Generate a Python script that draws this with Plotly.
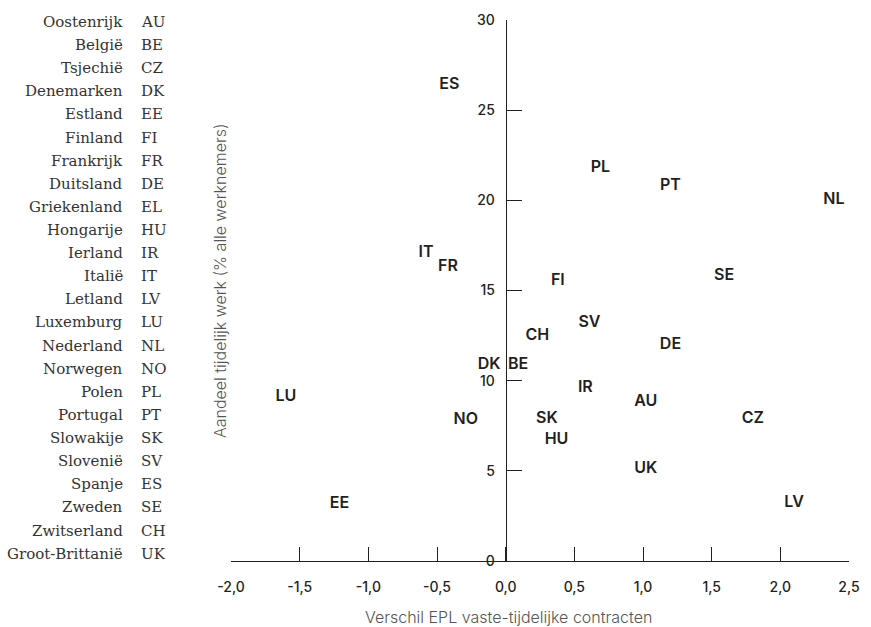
import plotly.graph_objects as go

# ---- data ----
codes = ["ES", "IT", "FR", "PL", "PT", "NL", "SE", "FI", "SV", "CH", "DE", "DK",
         "BE", "IR", "AU", "LU", "NO", "SK", "CZ", "HU", "UK", "EE", "LV"]
epl_diff = [-0.41, -0.58, -0.42, 0.69, 1.20, 2.39, 1.59, 0.38, 0.61, 0.23, 1.20, -0.12,
            0.09, 0.58, 1.02, -1.60, -0.29, 0.30, 1.80, 0.37, 1.02, -1.21, 2.10]
temp_share = [26.4, 17.1, 16.3, 21.8, 20.8, 20.0, 15.8, 15.5, 13.2, 12.5, 12.0, 10.85,
              10.85, 9.6, 8.8, 9.1, 7.8, 7.9, 7.9, 6.7, 5.1, 3.15, 3.2]

legend_names = ["Oostenrijk", "België", "Tsjechië", "Denemarken", "Estland", "Finland",
                "Frankrijk", "Duitsland", "Griekenland", "Hongarije", "Ierland", "Italië",
                "Letland", "Luxemburg", "Nederland", "Norwegen", "Polen", "Portugal",
                "Slowakije", "Slovenië", "Spanje", "Zweden", "Zwitserland", "Groot-Brittanië"]
legend_codes = ["AU", "BE", "CZ", "DK", "EE", "FI", "FR", "DE", "EL", "HU", "IR", "IT",
                "LV", "LU", "NL", "NO", "PL", "PT", "SK", "SV", "ES", "SE", "CH", "UK"]

x_ticks = [-2.0, -1.5, -1.0, -0.5, 0.0, 0.5, 1.0, 1.5, 2.0, 2.5]
x_tick_labels = ["-2,0", "-1,5", "-1,0", "-0,5", "0,0", "0,5", "1,0", "1,5", "2,0", "2,5"]
y_ticks = [0, 5, 10, 15, 20, 25, 30]
y_tick_labels = ["0", "5", "10", "15", "20", "25", "30"]

x_title = "Verschil EPL vaste-tijdelijke contracten"
y_title = "Aandeel tijdelijk werk (% alle werknemers)"

# ---- layout constants ----
W, H = 871, 627
ML, MR, MT, MB = 231, 11, 15, 66
PW, PH = W - ML - MR, H - MT - MB
xr = [-2.0, 2.5]
yr = [0, 30]
SANS = "Inter"
SERIF = "DejaVu Serif"
DARK = "#231f20"

fig = go.Figure()
fig.add_trace(go.Scatter(
    x=epl_diff, y=temp_share, text=codes, mode="text",
    textposition="middle center",
    textfont=dict(family=SANS, size=16, color=DARK, weight=600),
    cliponaxis=False, hoverinfo="skip", showlegend=False,
))

annotations = []
row_h = 23.33
y0_px = 17
for i, (name, code) in enumerate(zip(legend_names, legend_codes)):
    ypx = y0_px + row_h * i
    yp = (MT + PH - ypx) / PH
    annotations.append(dict(xref="paper", yref="paper", x=0, y=yp, xshift=125 - ML,
                            xanchor="right", yanchor="middle", showarrow=False, text=name,
                            font=dict(family=SERIF, size=15, color="#333333")))
    annotations.append(dict(xref="paper", yref="paper", x=0, y=yp, xshift=139 - ML,
                            xanchor="left", yanchor="middle", showarrow=False, text=code,
                            font=dict(family=SERIF, size=15, color="#333333")))

annotations.append(dict(xref="paper", yref="paper", x=0, xshift=220 - ML,
                        y=(MT + PH - 278.5) / PH, textangle=-90, showarrow=False,
                        xanchor="center", yanchor="middle", text=y_title,
                        font=dict(family=SANS, size=16, color="#555555", weight=300)))
annotations.append(dict(xref="paper", yref="paper", x=(513 - ML) / PW,
                        y=(MT + PH - 618) / PH, showarrow=False,
                        xanchor="center", yanchor="middle", text=x_title,
                        font=dict(family=SANS, size=16, color="#555555", weight=300)))

fig.update_layout(
    width=W, height=H,
    margin=dict(l=ML, r=MR, t=MT, b=MB, pad=0),
    paper_bgcolor="white", plot_bgcolor="white",
    showlegend=False,
    annotations=annotations,
    xaxis=dict(range=xr, showgrid=False, zeroline=False, showline=True,
               linecolor=DARK, linewidth=1, ticks="inside", ticklen=14,
               tickcolor=DARK, tickwidth=1, tickvals=x_ticks, ticktext=x_tick_labels,
               tickfont=dict(family=SANS, size=14, color=DARK, weight=500),
               ticklabelstandoff=13, fixedrange=True),
    yaxis=dict(range=yr, showgrid=False, zeroline=False, showline=True,
               anchor="free", position=(0 - xr[0]) / (xr[1] - xr[0]),
               linecolor=DARK, linewidth=1, ticks="inside", ticklen=15,
               tickcolor=DARK, tickwidth=1, tickvals=y_ticks, ticktext=y_tick_labels,
               tickfont=dict(family=SANS, size=14, color=DARK, weight=500),
               ticklabelstandoff=8, fixedrange=True),
)

fig.write_html("out.html", config={"displayModeBar": False},
               post_script="document.body.style.margin='0';document.body.style.overflow='hidden';")
